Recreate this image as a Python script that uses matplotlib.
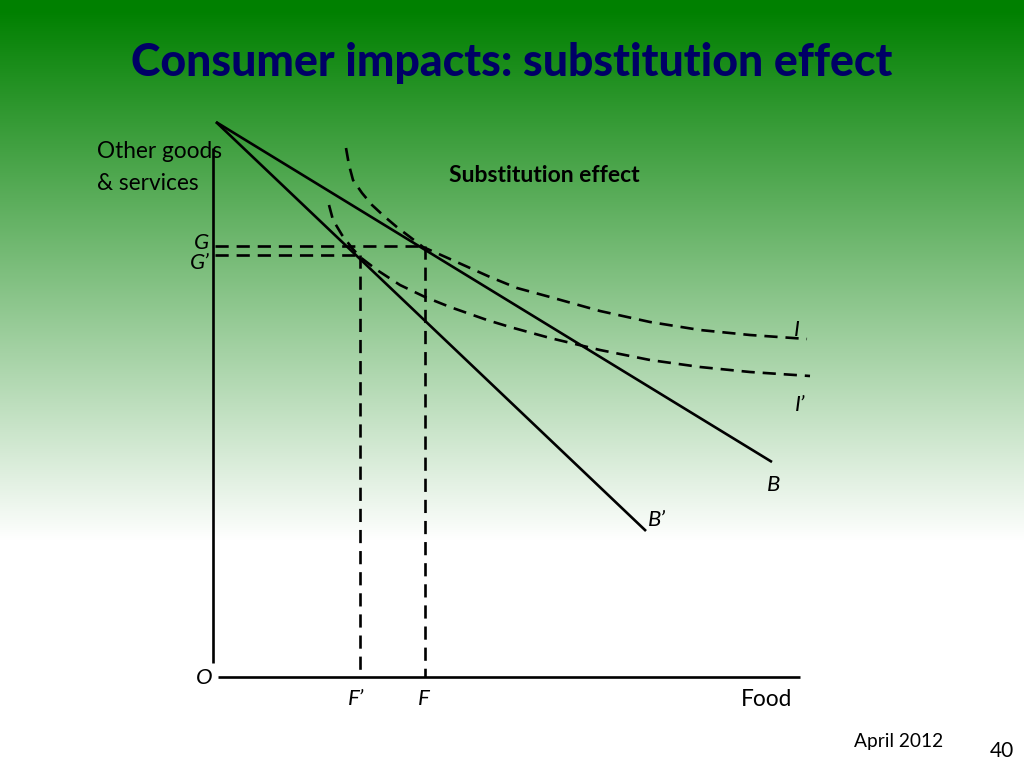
"""
Slide recreation: consumer impacts, substitution effect (indifference curve diagram).

Diagram values are stored in "diagram units" measured from the origin O,
x to the right (food) and y upwards (other goods & services).
"""

import matplotlib
matplotlib.use("Agg")
import matplotlib.pyplot as plt
import numpy as np

OUTPUT_PLOT = "out.png"

# Axes of the diagram (origin O at 0, 0).
y_axis_x = [0, 0]
y_axis_y = [14, 529]
x_axis_x = [5, 587]
x_axis_y = [0, 0]

# Budget lines: original B and rotated B'.
budget_b_x = [3, 559]
budget_b_y = [555, 215]
budget_b2_x = [3, 433]
budget_b2_y = [555, 146]

# Indifference curve I.
curve_i_x = [133, 136, 140, 149, 159, 172, 185, 197, 210, 237, 277, 304, 337, 387, 437, 487, 537, 594]
curve_i_y = [529, 512, 497, 484, 472, 460, 449, 440, 430, 418, 400, 389, 380, 366, 355, 347, 342, 338]

# Indifference curve I'.
curve_i2_x = [116, 120, 129, 139, 147, 164, 187, 212, 237, 274, 297, 337, 387, 437, 487, 537, 597]
curve_i2_y = [472, 457, 442, 429, 420, 407, 392, 380, 370, 357, 350, 339, 327, 317, 310, 305, 301]

# Tangency points and their projections.
g_level = 431      # G
g2_level = 422     # G'
f_level = 212      # F
f2_level = 147     # F'

# Labels: text, (x, y) in diagram units.
point_labels = {
    "G": (-12, 434),
    "G\u2019": (-13, 414),
    "O": (-9, -1),
    "F\u2019": (143, -22),
    "F": (211, -22),
    "B": (561, 192),
    "B\u2019": (444, 157),
    "I": (584, 347),
    "I\u2019": (587, 272),
}

# --- figure -----------------------------------------------------------------
fig = plt.figure(figsize=(10.24, 7.68), dpi=100)

# Background gradient (green at top fading to white).
bg = fig.add_axes([0, 0, 1, 1])
bg.set_axis_off()
rows = np.arange(768)
frac = np.clip((rows - 10) / 530.0, 0, 1)[:, None]
top = np.array([0, 128, 0]) / 255.0
grad = top * (1 - frac) + np.ones(3) * frac
bg.imshow(grad[:, None, :], aspect="auto", extent=[0, 1, 0, 1], origin="upper")
bg.set_xlim(0, 1)
bg.set_ylim(0, 1)

ax = fig.add_axes([0, 0, 1, 1])
ax.set_axis_off()
ax.patch.set_alpha(0)
# Pixel layout: origin O sits at (213, 677) on the 1024x768 slide.
ax.set_xlim(-213, 1024 - 213)
ax.set_ylim(677 - 768, 677)

solid = dict(color="black", lw=1.9, solid_capstyle="butt")
dashed = dict(color="black", lw=1.9, linestyle=(0, (5, 3)))

ax.plot(y_axis_x, y_axis_y, **solid)
ax.plot(x_axis_x, x_axis_y, **solid)
ax.plot(budget_b_x, budget_b_y, **solid)
ax.plot(budget_b2_x, budget_b2_y, **solid)
ax.plot(curve_i_x, curve_i_y, **dashed)
ax.plot(curve_i2_x, curve_i2_y, **dashed)

ax.plot([2, f_level], [g_level, g_level], **dashed)
ax.plot([2, f2_level], [g2_level, g2_level], **dashed)
ax.plot([f_level, f_level], [g_level, 0], **dashed)
ax.plot([f2_level, f2_level], [g2_level, 0], **dashed)

label_font = dict(family=["Lato", "DejaVu Sans"], style="italic", fontsize=16, color="black")
for text, (lx, ly) in point_labels.items():
    ax.text(lx, ly, text, ha="center", va="center", **label_font)

body_font = dict(family=["Lato", "DejaVu Sans"], fontsize=16.3, color="black")
ax.text(-116, 525, "Other goods", ha="left", va="center", **body_font)
ax.text(-116, 494, "& services", ha="left", va="center", **body_font)
ax.text(554, -22, "Food", ha="center", va="center", **body_font)
ax.text(331, 502, "Substitution effect", ha="center", va="center",
        family=["Lato", "DejaVu Sans"], fontsize=16.5, fontweight="bold")

# Title and footer (figure pixel coordinates).
title = fig.text(512 / 1024, 1 - 63 / 768, "Consumer impacts: substitution effect",
                 ha="center", va="center", fontsize=30, fontweight="black",
                 color="#000066", family=["Lato", "DejaVu Sans"])
fig.canvas.draw()
w = title.get_window_extent().width
title.set_fontsize(30 * 760 / w)

fig.text(899 / 1024, 1 - 742 / 768, "April 2012", ha="center", va="center",
         fontsize=13.8, family=["Lato", "DejaVu Sans"])
fig.text(1002 / 1024, 1 - 751 / 768, "40", ha="center", va="center",
         fontsize=15, family=["Lato", "DejaVu Sans"])

fig.savefig(OUTPUT_PLOT, dpi=100)
